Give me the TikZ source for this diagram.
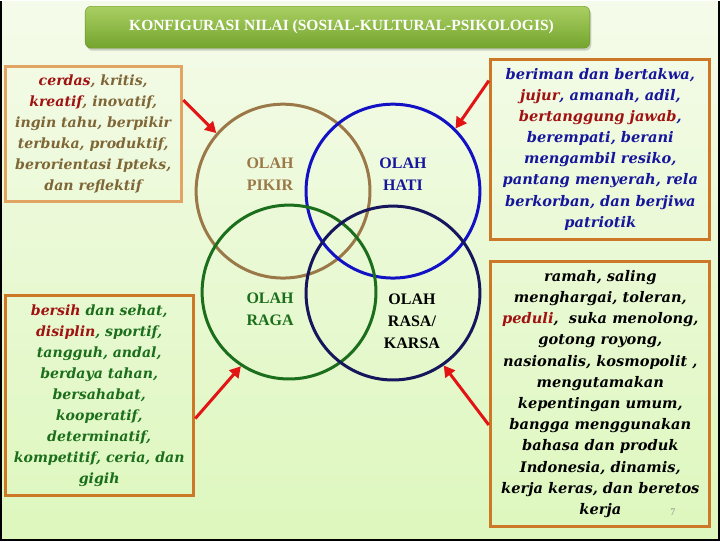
\documentclass[tikz,border=0pt]{standalone}
\usepackage{fontspec}
\setmainfont{Liberation Serif}
\newfontfamily\valuefamily{DejaVu Serif}
\usetikzlibrary{arrows.meta,shadows}
\definecolor{SlideTop}{HTML}{F5FBEA}
\definecolor{SlideBottom}{HTML}{DDF7BD}
\definecolor{BarTop}{HTML}{A9CF62}
\definecolor{BarBottom}{HTML}{74A42E}
\definecolor{PikirBrown}{HTML}{9A7848}
\definecolor{HatiBlue}{HTML}{1212C4}
\definecolor{RagaGreen}{HTML}{1B6E1B}
\definecolor{RasaNavy}{HTML}{16165C}
\definecolor{PikirText}{HTML}{7E6636}
\definecolor{HatiText}{HTML}{16169C}
\definecolor{KeyRed}{HTML}{A01212}
\definecolor{PointerRed}{HTML}{E21414}
\definecolor{FrameLight}{HTML}{E2A462}
\definecolor{FrameOrange}{HTML}{CC7826}
\tikzset{
  valuebox/.style={draw=FrameOrange, line width=3pt, inner sep=0pt,
    align=center, font=\valuefont},
  narrowbox/.style={valuebox, font=\valuefont\fontsize{14.1}{21}\selectfont},
  ring/.style={circle, line width=3pt, inner sep=0pt, minimum size=174pt},
  olah/.style={align=center, font=\olahfont},
  pointer/.style={-{Triangle[length=11pt, width=12pt]}, draw=PointerRed,
    line width=3pt, shorten <=1pt},
  titlebar/.style={rounded corners=6pt, top color=BarTop, bottom color=BarBottom,
    draw=BarBottom!90!black, thin, minimum width=505pt, minimum height=42pt,
    drop shadow={opacity=0.35, shadow xshift=1.5pt, shadow yshift=-2.5pt},
    text=white, font=\bfseries\fontsize{15.5}{18}\selectfont}
}
\newcommand{\valuefont}{\valuefamily\bfseries\itshape\fontsize{14.6}{21.2}\selectfont}
\newcommand{\olahfont}{\bfseries\fontsize{16}{22}\selectfont}
\newcommand{\keyword}[1]{\textcolor{KeyRed}{#1}}

\begin{document}
\begin{tikzpicture}[x=1pt, y=-1pt]
  % slide background and frame
  \shade[top color=SlideTop, bottom color=SlideBottom] (0,0) rectangle (720,540);
  \draw[black, line width=2.5pt] (1,0) -- (1,539) -- (719,539) -- (719,0);
  \useasboundingbox (0,0) rectangle (720,540);

  \node[titlebar] (title) at (337.5,26) {\hspace{8pt}KONFIGURASI NILAI (SOSIAL-KULTURAL-PSIKOLOGIS)};

  % the four rings
  \node[ring, draw=PikirBrown] (pikir) at (283,190) {};
  \node[ring, draw=HatiBlue] (hati) at (393,190) {};
  \node[ring, draw=RagaGreen] (raga) at (289,291) {};
  \node[ring, draw=RasaNavy] (rasa) at (393,292) {};

  \node[olah, text=PikirBrown] (pikirlabel) at (270,173) {OLAH\\PIKIR};
  \node[olah, text=HatiText] (hatilabel) at (403,173) {OLAH\\HATI};
  \node[olah, text=RagaGreen] (ragalabel) at (270,308) {OLAH\\RAGA};
  \node[olah, text=black] (rasalabel) at (412,320) {OLAH\\RASA/\\KARSA};

  % value boxes
  \node[narrowbox, draw=FrameLight, text=PikirText, minimum width=176pt, minimum height=135pt]
    (pikirbox) at (93,132.5) {\keyword{cerdas}, kritis,\\\keyword{kreatif}, inovatif,\\ingin tahu, berpikir\\terbuka, produktif,\\berorientasi Ipteks,\\dan reflektif};
  \node[narrowbox, text=RagaGreen, minimum width=188pt, minimum height=201pt]
    (ragabox) at (99,394.5) {\keyword{bersih} dan sehat,\\\keyword{disiplin}, sportif,\\tangguh, andal,\\berdaya tahan,\\bersahabat,\\kooperatif,\\determinatif,\\kompetitif, ceria, dan\\gigih};
  \node[valuebox, text=HatiText, minimum width=219pt, minimum height=180pt]
    (hatibox) at (600.5,148) {beriman dan bertakwa,\\\keyword{jujur}, amanah, adil,\\\keyword{bertanggung jawab},\\berempati, berani\\mengambil resiko,\\pantang menyerah, rela\\berkorban, dan berjiwa\\patriotik};
  \node[valuebox, text=black, minimum width=219pt, minimum height=266pt]
    (rasabox) at (600.5,393) {ramah, saling\\menghargai, toleran,\\\keyword{peduli},~ suka menolong,\\gotong royong,\\nasionalis, kosmopolit ,\\mengutamakan\\kepentingan umum,\\bangga menggunakan\\bahasa dan produk\\Indonesia, dinamis,\\kerja keras, dan beretos\\kerja};

  \node[text=black!45, font=\fontsize{10}{12}\selectfont] (pageno) at (673,511) {7};

  % pointers from the boxes to the rings
  \draw[pointer] (pikirbox.21) -- (pikir.139);
  \draw[pointer] (hatibox.148) -- (hati.45);
  \draw[pointer] (ragabox.-14) -- (raga.-123);
  \draw[pointer] (rasabox.196) -- (rasa.-55);
\end{tikzpicture}
\end{document}
